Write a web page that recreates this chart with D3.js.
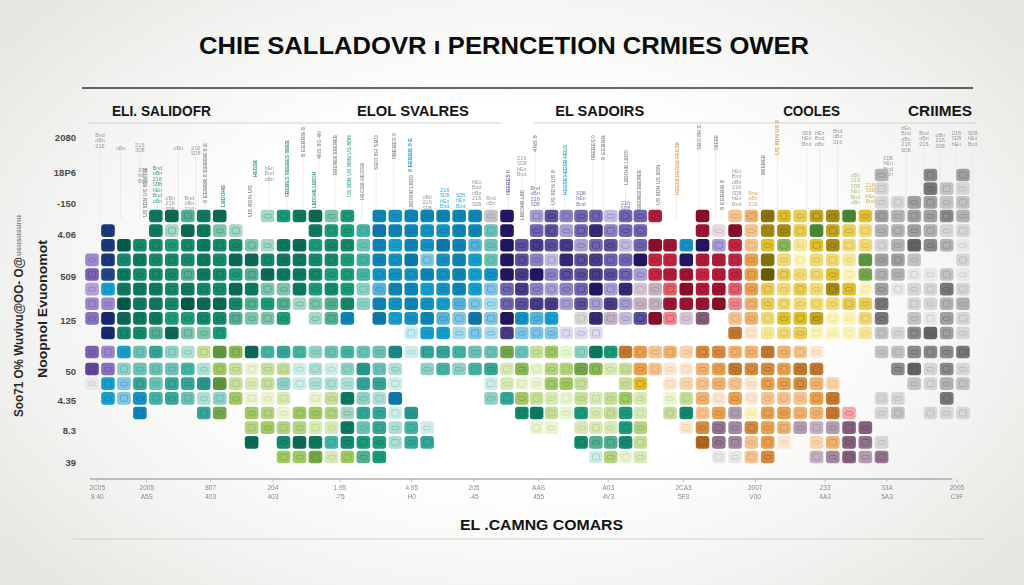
<!DOCTYPE html>
<html><head><meta charset="utf-8">
<script src="https://cdn.jsdelivr.net/npm/d3@7"></script>
<style>
html,body{margin:0;padding:0;width:1024px;height:585px;overflow:hidden;
background:radial-gradient(ellipse 640px 420px at 50% 50%,#ffffff 45%,#f3f3f1 75%,#e6e6e3 100%)}
text{font-family:"Liberation Sans",Arial,sans-serif}
</style>
</head><body><svg id="c" width="1024" height="585"></svg>
<script>
const title = "CHIE SALLADOVR \u0131 PERNCETION CRMIES OWER";
const groupHeads = ["ELI. SALIDOFR","ELOL SVALRES","EL SADOIRS","COOLES","CRIIMES"];
const groupHeadCols = [1.25,16.6,29.25,43.95,51.62];
const groupHeadWidths = [99,112,89,57,64];
const xTitle = "EL .CAMNG COMARS";
const yTitleOuter = "Soo71 O% Wuvivu@OO- O@";
const yTitleOuterSmall = "usususunu";
const yTitleInner = "Noopnol Evuonomot";
const yTickLabels = ["2080","18P6","-150","4.06","509","125","50","4.35","8.3","39"];
const xTickCols = [0.3,3.4,7.4,11.3,15.5,20,23.9,28.1,32.8,37.8,42.2,46.5,50.3,54.6];
const xTickTop = ["2C05","2005","807","204","1 95","4 95","205","AAS","A03","2CA3","2007","233","33A","2005"];
const xTickBottom = ["8 40","A5S","403","403","-75","H0","-45","455","4V3","5F3","V00","4A3","5A3","C9F"];

// 56 columns by 20 rows. Level 0 = empty cell, 1 = palest, 9 = darkest.
const levelRows = [
"0000000000 0000000000 0000000000 0000000000 0000000000 400605",
"0000000000 0000000000 0000000000 0000000000 0000000000 200732",
"0000000000 0000000000 0000000000 0000000000 0000000000 225533",
"0000784780 0257835076 7777739036 4552557009 0348546795 545564",
"0800728732 0000755587 7667749056 3584550008 1937749643 445422",
"0896656766 3278566475 7687449676 7356259869 3635625733 248641",
"4867666768 8677665576 8367549642 8675596697 7658313328 553002",
"6776664765 4877655566 6767569794 6676536786 7659433517 441131",
"3577767668 7337565347 7567535743 4593823497 8454343751 512272",
"4497769886 4542346376 7654325677 3637333888 9344333344 702244",
"5987755664 3350247085 6743839645 0283269327 0343556113 703152",
"0966483350 0000000000 1552327333 1110000000 0712341112 326852",
"6454632386 8565345448 1665447435 1375753426 6447431000 336667",
"8534445253 1331213742 0353562614 4762353114 5766577000 068262",
"1536466783 2331222661 0000012115 5300350123 4315564200 003243",
"0536564235 1120137328 0000036532 1323520134 1513335700 220070",
"0007000670 5415542661 7000000673 1523520363 5415544720 230222",
"0000000000 4544227462 5100000011 0222540016 6565443477 000000",
"0000000000 8068756552 6600000000 0644630008 6535102476 200000",
"0000000000 0055725450 0000000000 0014120000 1136003574 600000"
];
// Hue family of every cell in the lower block (rows 12 to 19).
const lowerHueRows = [
"ppbttttlll gttttttttt ttttttltll ltggoooooo oooooooooo kkkkkk",
"ppttttttll lllttttttt ttttttllll lllllooooo oooooooooo kkkkkk",
"kbbtttttll lltttttttt ttttttllll lllllyoooo oooooooooo kkkkkk",
"bbbbtttttl llllllgttb tttttttlll lllllllllo oooooooooo kkkkkk",
"tttbttttll llllllgttt tttttttggl lgllglllgo omyoooooro kkkkkk",
"tttttttttt llllllgttt tttttttkll llllgllloo mmooommmmm kkkkkk",
"tttttttttt glgggtgggt ttllllllll lgggglooo o mmoooooomm kkkkkk",
"tttttttttt lllllllggg llllllllll lltllloooo kkoooommmm mkkkkk"
];
// Hue family of each column in the upper block (rows 0 to 11).
const upperHueColumns = "pngggggggg gggggggtbb bbbbbbvvvv vvvvvvrrrr rroyyyyyyy kkkkkk";
// Cells of the upper block that differ from their column's family: [row, column, family]
const upperHueExceptions = [
[5,38,"b"],[5,39,"v"],[5,40,"v"],[6,38,"v"],[8,1,"b"],[8,35,"m"],[8,36,"m"],[9,35,"m"],[9,36,"m"],
[9,1,"p"],[10,0,"p"],[9,0,"p"],[10,16,"b"],[10,27,"b"],[10,28,"b"],[10,29,"b"],[10,31,"k"],[10,38,"m"],[10,33,"m"],
[11,27,"b"],[11,28,"b"],[11,29,"b"],[10,41,"o"],[11,41,"o"],[3,48,"l"],[4,46,"l"],[5,44,"l"],[6,49,"l"],[7,49,"l"],
[3,25,"k"],[4,25,"t"],[5,25,"t"],[6,25,"t"],[3,41,"o"],[4,17,"t"],[10,39,"m"],[4,40,"m"]
];
const hueFamilies = ["g","t","b","n","p","v","r","o","y","k","l","m"];
const huePale = ["#cfeade","#cfece6","#c9ecf4","#9fb6d6","#ded3ee","#dedbee","#f5ccd2","#fbe7d2","#fbf4bd","#e8e8e8","#eaf3d2","#e6d9e0"];
const hueMid  = ["#1c9a7a","#45b3a4","#169ecf","#2e63a4","#8670c0","#6f66b0","#d8304a","#e8a050","#e2bf2c","#a0a0a0","#a2c864","#a08aa2"];
const hueDeep = ["#065a48","#0a7c78","#086a9c","#16296c","#553592","#231660","#880a28","#9c520e","#6a5a06","#505050","#468630","#643858"];

// Tiny annotation stacks above the bars: [column, top, bottom, family, "v" upright or "h" lines], heights above row 3.
const annotationStacks = [
[0.5,85,70,"k","h"],[1.8,72,66,"k","h"],[3,75,62,"k","h"],[3.2,50,36,"k","h"],[3.3,49,0,"k","v"],[4.1,52,12,"g","h"],
[5.4,72,64,"k","h"],[6.5,72,62,"k","h"],[7.1,74,14,"k","v"],[8.2,32,10,"g","v"],[6.1,22,4,"k","h"],[4.9,22,4,"k","h"],
[9.9,32,0,"k","v"],[10.2,57,40,"g","v"],[11.1,52,38,"k","h"],[12.2,77,20,"g","v"],[13.2,90,60,"k","v"],[13.9,45,9,"g","v"],
[14.2,86,58,"k","v"],[15.2,82,42,"k","v"],[16.1,82,20,"t","v"],[16.9,54,17,"k","v"],[17.8,82,47,"k","v"],[18.9,84,58,"k","v"],
[19.9,79,45,"b","v"],[20,42,7,"k","v"],[21,23,9,"k","h"],[22.1,30,10,"b","h"],[23.1,25,10,"b","h"],[24.1,38,10,"k","h"],[25,22,12,"k","h"],
[26.1,47,22,"v","v"],[27,62,40,"k","h"],[27,27,-3,"k","v"],[27.9,82,65,"k","v"],[27.9,32,9,"v","h"],[29.1,47,12,"k","v"],
[29.9,72,22,"b","v"],[31,27,8,"v","h"],[31.8,82,57,"k","v"],[32.5,82,57,"k","v"],[34,67,32,"k","v"],[34,17,2,"v","h"],[34.9,47,7,"k","v"],
[36.2,52,12,"k","v"],[37.4,75,22,"o","v"],[38.8,92,67,"k","v"],[39.8,82,67,"k","v"],[40.2,37,7,"k","v"],[41.1,49,9,"k","h"],
[42.1,27,9,"o","h"],[42.7,62,42,"k","v"],[43.6,97,62,"o","v"],[45.4,87,69,"k","h"],[46.2,87,69,"k","h"],[47.3,89,72,"k","h"],
[48.4,45,12,"l","h"],[49.3,35,12,"y","h"],[50.4,62,42,"k","h"],[51.5,92,67,"k","h"],[52.6,87,72,"k","h"],[53.6,85,67,"k","h"],[54.6,87,72,"k","h"],[55.6,87,72,"k","h"]
];
const tinyWords = ["8 EEBBB ","LBDOHB ","4NS 8G ","BBEMEB ","US 8DN ","HEGSB ","SBO 8H ","0BEBES "];
const tinyLines = ["Bnd","oBn","216","SDB","hEn"];

const svg = d3.select("#c");
const xCol = d3.scaleLinear().domain([0,26,37,55]).range([92,507,670,963]);
const yRow = d3.scaleLinear().domain([0,3,11,12,13,19]).range([175,216,333,352,369,457]);
const yAbove = d3.scaleLinear().domain([0,100]).range([217,117]);
const yTickScale = d3.scaleLinear().domain(d3.range(yTickLabels.length)).range([137,172,203,234,276,320,371,400,430,462]);
const hueIndex = d3.scaleOrdinal(hueFamilies, d3.range(hueFamilies.length));
const cellColor = (h,l) => d3.scaleLinear().domain([1,5,9])
  .range([huePale[hueIndex(h)],hueMid[hueIndex(h)],hueDeep[hueIndex(h)]]).interpolate(d3.interpolateLab)(l);

const clean = s => s.replace(/ /g,"");
const upperHue = clean(upperHueColumns);
const exc = new Map(upperHueExceptions.map(e=>[e[0]+":"+e[1],e[2]]));
const cells = [];
levelRows.forEach((rowStr,r)=>{
  const rowLev = clean(rowStr);
  const rowHue = r>=12 ? clean(lowerHueRows[r-12]) : null;
  for(let c=0;c<rowLev.length;c++){
    const level = +rowLev[c];
    if(!level) continue;
    const hue = rowHue ? (rowHue[c]||"k") : (exc.get(r+":"+c)||upperHue[c]);
    cells.push({r,c,level,hue});
  }
});

const defs = svg.append("defs");
defs.append("filter").attr("id","soft").append("feGaussianBlur").attr("stdDeviation",0.6);
defs.append("filter").attr("id","tiny").append("feGaussianBlur").attr("stdDeviation",0.3);

const rule = (x1,x2,y,col,w)=>svg.append("line").attr("x1",x1).attr("x2",x2).attr("y1",y).attr("y2",y).attr("stroke",col).attr("stroke-width",w);
rule(82,973,88,"#333",1.6);
rule(88,502,123,"#d4d4d2",1.2);
rule(533,977,123,"#d4d4d2",1.2);
rule(73,985,539,"#cfcfcc",1.2);

svg.append("text").attr("x",199).attr("y",54).attr("font-size",24.5).attr("font-weight",700)
  .attr("fill","#0c0c0c").attr("textLength",610).attr("lengthAdjust","spacingAndGlyphs").text(title);

svg.append("g").selectAll("text").data(groupHeads).join("text")
  .attr("x",(d,i)=>xCol(groupHeadCols[i])).attr("y",116).attr("font-size",15).attr("font-weight",700).attr("fill","#161616")
  .attr("textLength",(d,i)=>groupHeadWidths[i]).attr("lengthAdjust","spacingAndGlyphs").text(d=>d);

// annotations
const ann = svg.append("g").attr("filter","url(#tiny)");
annotationStacks.forEach((s,i)=>{
  const [col,top,bot,hue,kind]=s;
  const x=xCol(col), yT=yAbove(top), yB=yAbove(bot);
  const fill = hue==="k" ? "#808080" : cellColor(hue,6);
  ann.append("line").attr("x1",x).attr("x2",x).attr("y1",yB).attr("y2",yAbove(-2))
    .attr("stroke","#e0e0e0").attr("stroke-width",0.6);
  if(kind==="v"){
    const nChars=Math.max(3,Math.round((yB-yT)/3.1));
    const word=tinyWords[i%tinyWords.length].repeat(6).slice(0,nChars);
    ann.append("text").attr("transform",`translate(${x+2},${yB}) rotate(-90)`).attr("font-size",5.4).attr("font-weight",700)
      .attr("fill",fill).attr("opacity",0.8).attr("textLength",yB-yT).attr("lengthAdjust","spacingAndGlyphs").text(word);
  } else {
    const n=Math.max(1,Math.round((yB-yT)/5.5));
    d3.range(n).forEach(k=>{
      ann.append("text").attr("x",x).attr("y",yT+4.5+k*5.5).attr("text-anchor","middle").attr("font-size",4.8).attr("fill",fill).attr("opacity",0.8)
        .attr("textLength",9.5).attr("lengthAdjust","spacingAndGlyphs").text(tinyLines[(i+k)%tinyLines.length]);
    });
  }
});

// cells
const cellW=13.6, cellH=12.6;
const cg = svg.append("g").attr("filter","url(#soft)");
cg.selectAll("rect.cell").data(cells).join("rect").attr("class","cell")
  .attr("x",d=>xCol(d.c)-cellW/2).attr("y",d=>yRow(d.r)-cellH/2).attr("width",cellW).attr("height",cellH).attr("rx",3)
  .attr("fill",d=>cellColor(d.hue,d.level));
const glyph = cg.selectAll("g.gl").data(cells).join("g").attr("class","gl")
  .attr("transform",d=>`translate(${xCol(d.c)},${yRow(d.r)})`);
glyph.append("rect").attr("x",-3.5).attr("y",d=>(d.r+d.c)%2?-3:-1.5).attr("width",7).attr("height",d=>(d.r+d.c)%2?6:3.5).attr("rx",1.2)
  .attr("fill","none").attr("stroke",d=>cellColor(d.hue,Math.min(9,d.level+3))).attr("stroke-width",1).attr("opacity",0.45);

// y axis
const yAxis = svg.append("g").attr("transform","translate(76,0)")
  .call(d3.axisLeft(yTickScale).tickValues(d3.range(yTickLabels.length)).tickSize(0).tickPadding(0).tickFormat(i=>yTickLabels[i]));
yAxis.select(".domain").remove();
yAxis.selectAll("text").attr("font-size",9.5).attr("font-weight",700).attr("fill","#4a4a4a").attr("font-family","Liberation Sans");

// x axis
const xAxis = svg.append("g").attr("transform","translate(0,479)")
  .call(d3.axisBottom(xCol).tickValues(xTickCols).tickSize(3).tickPadding(3).tickFormat((d,i)=>xTickTop[i]));
xAxis.select(".domain").attr("d",`M90,0H952`).attr("stroke","#8a8a8a").attr("stroke-width",1.2);
xAxis.selectAll(".tick line").attr("stroke","#aaa").attr("stroke-width",0.7);
xAxis.selectAll(".tick text").attr("font-size",6.5).attr("fill","#8a8a8a").attr("font-family","Liberation Sans");
xAxis.selectAll(".tick").append("text").attr("y",20).attr("text-anchor","middle").attr("fill","#8a8a8a").attr("font-size",6.5).text((d,i)=>xTickBottom[i]);
xAxis.attr("filter","url(#tiny)");

svg.append("text").attr("x",460).attr("y",530).attr("font-size",15).attr("font-weight",700).attr("fill","#141414")
  .attr("textLength",163).attr("lengthAdjust","spacingAndGlyphs").text(xTitle);

const vtxt=(x,yB,len,size,col,t)=>svg.append("text").attr("transform",`translate(${x},${yB}) rotate(-90)`).attr("font-size",size)
  .attr("font-weight",700).attr("fill",col).attr("textLength",len).attr("lengthAdjust","spacingAndGlyphs").text(t);
vtxt(23,417,160,13,"#2a2a2a",yTitleOuter);
vtxt(21,256,41,7.5,"#888",yTitleOuterSmall);
vtxt(47,378,138,13,"#222",yTitleInner);
</script>
</body></html>
